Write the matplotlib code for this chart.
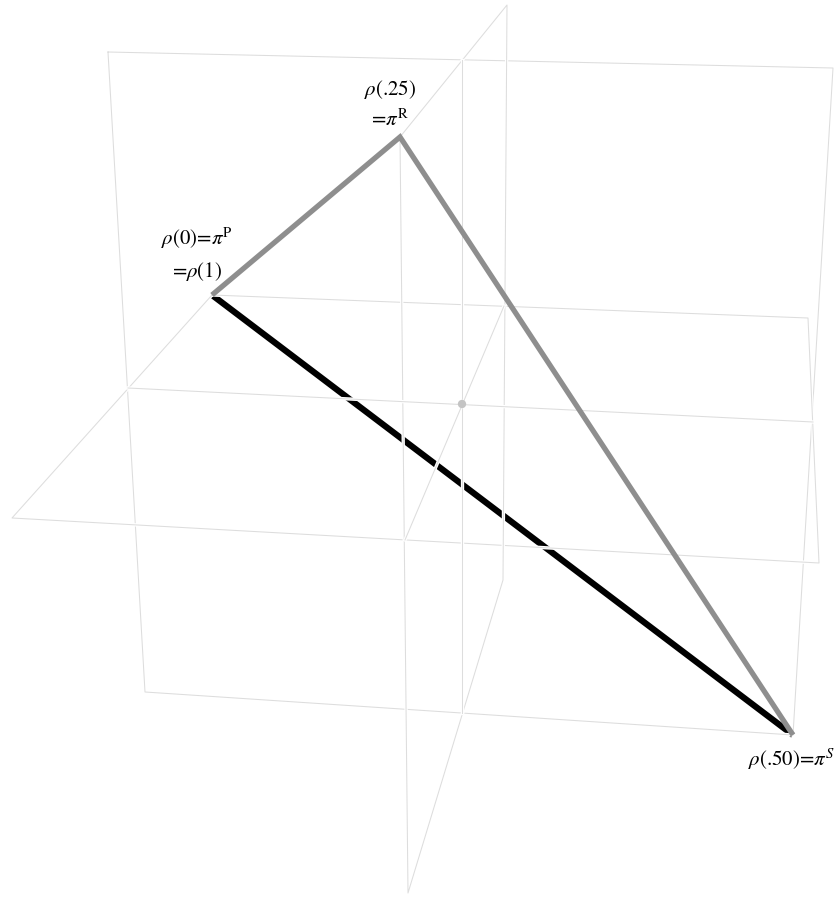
import numpy as np
import matplotlib.pyplot as plt
import matplotlib.patheffects as pe

plt.rcParams['font.family'] = ['STIXGeneral', 'DejaVu Serif']
plt.rcParams['mathtext.fontset'] = 'stix'

#### Datos: puntos proyectados (coordenadas de la imagen) ####

# vertices del simplex: rho(0)=pi^P, rho(.25)=pi^R, rho(.50)=pi^S
vert_x = [212, 400, 793]
vert_y = [295, 137, 735]
vert_labels = [r'$\rho$(0)=$\pi^{\mathrm{P}}$' + '\n' + r'=$\rho$(1)',
               r'$\rho$(.25)' + '\n' + r'=$\pi^{\mathrm{R}}$',
               r'$\rho$(.50)=$\pi^{S}$']

# los tres planos por el centro (esquinas)
planoA_x = [108, 833, 793, 145]
planoA_y = [52, 68, 735, 692]
planoB_x = [212, 808, 819, 12]
planoB_y = [295, 318, 563, 518]
planoC_x = [400, 507, 503, 408]
planoC_y = [137, 5, 580, 893]

# intersecciones entre planos
interAB_x = [128, 813]
interAB_y = [388, 422]
interAC_x = [462, 462]
interAC_y = [60, 713]
interBC_x = [504, 405]
interBC_y = [306, 540]

centro_x = [462]
centro_y = [404]

#### Grafica ####
fig = plt.figure(figsize=(8.35, 8.99), dpi=100)
ax = fig.add_axes([0, 0, 1, 1])
ax.set_xlim(0, 835)
ax.set_ylim(899, 0)
ax.axis('off')

gris_plano = '#dddddd'
halo = [pe.Stroke(linewidth=2.4, foreground='white'), pe.Normal()]

# lado negro P-S (detras de los planos)
ax.plot([vert_x[0], vert_x[2]], [vert_y[0], vert_y[2]], color='black', lw=4.5,
        solid_capstyle='butt', zorder=2)

for px, py in [(planoA_x, planoA_y), (planoB_x, planoB_y), (planoC_x, planoC_y)]:
    ax.plot(px + px[:1], py + py[:1], color=gris_plano, lw=0.75, zorder=3,
            path_effects=halo)
for px, py in [(interAB_x, interAB_y), (interAC_x, interAC_y), (interBC_x, interBC_y)]:
    ax.plot(px, py, color=gris_plano, lw=0.75, zorder=3, path_effects=halo)

ax.scatter(centro_x, centro_y, s=36, color='#c4c4c4', edgecolors='none', zorder=4)

# lados grises P-R-S
ax.plot(vert_x, vert_y, color='#8e8e8e', lw=3.8, solid_joinstyle='miter',
        solid_capstyle='butt', zorder=5)

# etiquetas
ax.text(vert_x[0] - 15, vert_y[0] - 12, vert_labels[0], ha='center', va='bottom',
        fontsize=15, linespacing=1.55, zorder=6)
ax.text(vert_x[1] - 10, vert_y[1] - 6, vert_labels[1], ha='center', va='bottom',
        fontsize=15, linespacing=1.55, zorder=6)
ax.text(vert_x[2] - 2, vert_y[2] + 12, vert_labels[2], ha='center', va='top',
        fontsize=15, zorder=6)

fig.savefig('out.png', dpi=100, facecolor='white')
